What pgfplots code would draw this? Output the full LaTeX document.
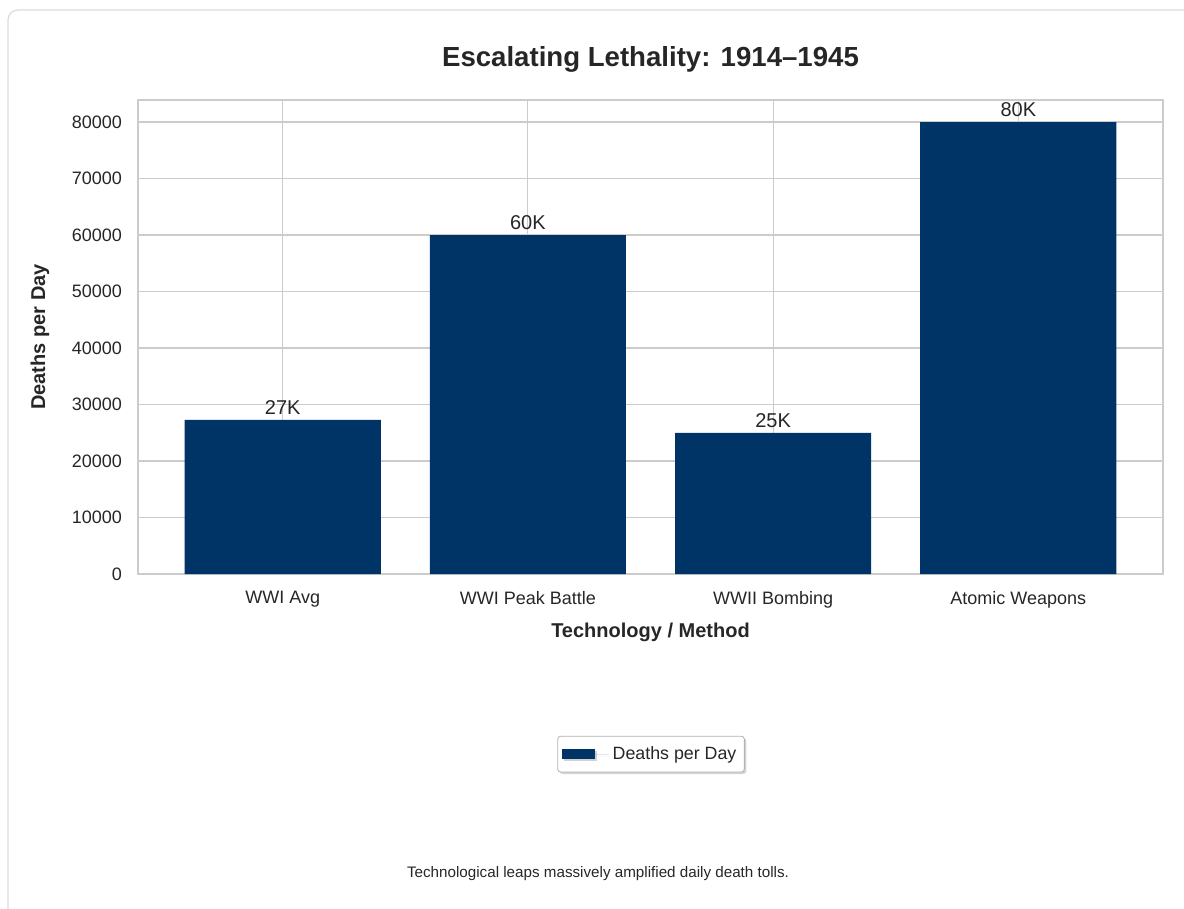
\documentclass[border=0pt]{standalone}
\usepackage{pgfplots}
\pgfplotsset{compat=1.18}
\usepackage{fontspec}
\setmainfont{Liberation Sans}
\usetikzlibrary{shadows}
\definecolor{barblue}{HTML}{003366}
\definecolor{gridgray}{HTML}{CCCCCC}
\definecolor{txt}{HTML}{262626}

\begin{document}
\begin{tikzpicture}[every node/.append style={text=txt}]
% page: 1 px = 0.5pt, origin top left
\useasboundingbox (0pt,0pt) rectangle (592pt,-454.5pt);
\draw[gridgray!70, line width=0.6pt, rounded corners=5pt] (4pt,-465pt) -- (4pt,-5pt) -- (600pt,-5pt);

\begin{axis}[
    at={(69pt,-287pt)}, anchor=south west,
    scale only axis,
    width=512.5pt, height=237pt,
    xmin=-0.59, xmax=3.59,
    ymin=0, ymax=83900,
    ybar, bar width=0.8,
    clip=false,
    axis line style={gridgray, line width=1pt},
    grid=major,
    major grid style={gridgray, line width=0.6pt},
    major tick length=0pt,
    xtick={0,1,2,3},
    xticklabels={WWI Avg, WWI Peak Battle, WWII Bombing, Atomic Weapons},
    ytick={0,10000,...,80000},
    scaled y ticks=false,
    /pgf/number format/.cd, 1000 sep={}, assume math mode=true, /pgfplots/.cd,
    tick label style={font=\fontsize{9}{11}\selectfont},
    xticklabel style={yshift=-5pt},
    yticklabel style={xshift=-4.5pt},
    title={Escalating Lethality: 1914–1945},
    title style={at={(0.5,1.0612)}, anchor=center, font=\fontsize{13.8}{16}\selectfont\bfseries},
    xlabel={Technology / Method},
    xlabel style={at={(axis description cs:0.5,-0.1224)}, anchor=center, font=\fontsize{10}{12}\selectfont\bfseries},
    ylabel={Deaths per Day},
    ylabel style={at={(axis description cs:-0.0956,0.5)}, anchor=center, font=\fontsize{10}{12}\selectfont\bfseries},
    nodes near coords,
    point meta=explicit symbolic,
    nodes near coords style={font=\fontsize{10}{12}\selectfont, inner sep=2.5pt},
    legend style={at={(0.5005,-0.38)}, anchor=center, draw=gray!60, rounded corners=1.5pt,
        drop shadow={shadow xshift=1pt, shadow yshift=-1pt, opacity=0.35},
        fill=white, font=\fontsize{8.9}{11}\selectfont, inner xsep=2pt, inner ysep=3pt},
    legend image code/.code={\fill[#1, sharp corners] (0pt,-2.5pt) rectangle (16.5pt,2.5pt);
        \path (0pt,0pt) -- (23.5pt,0pt);},
]
\addplot[fill=barblue, draw=none] coordinates {
    (0,27300) [27K]
    (1,60000) [60K]
    (2,25000) [25K]
    (3,80000) [80K]
};
\addlegendentry{Deaths per Day}
\end{axis}

\node[font=\fontsize{7.6}{9}\selectfont] at (299pt,-437pt) {Technological leaps massively amplified daily death tolls.};
\end{tikzpicture}
\end{document}
